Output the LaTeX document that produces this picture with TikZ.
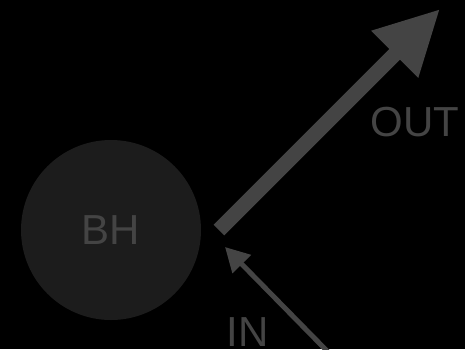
\documentclass[tikz,border=0pt]{standalone}
\usepackage{fontspec}
\setmainfont{Liberation Sans}
\usetikzlibrary{arrows.meta}
\definecolor{bgcol}{HTML}{000000}
\definecolor{holecol}{HTML}{1C1C1C}
\definecolor{inkcol}{HTML}{444444}
\tikzset{
  hole/.style={circle, fill=holecol, minimum size=180pt, inner sep=0pt, text=inkcol},
  lbl/.style={inner sep=0pt, text=inkcol, font=\fontsize{42}{42}\selectfont},
  outflow/.style={draw=inkcol, line width=15pt, -{Triangle[length=64pt,width=62pt,fill=inkcol]}},
  inflow/.style={draw=inkcol, line width=5pt, -{Triangle[length=24pt,width=25pt,fill=inkcol]}}
}
\begin{document}
\begin{tikzpicture}[x=1pt,y=-1pt]
  % canvas
  \fill[bgcol] (0,0) rectangle (465,349);
  \useasboundingbox (0,0) rectangle (465,349);
  % black hole
  \node[hole, font=\fontsize{42}{42}\selectfont] (bh) at (111,230) {BH};
  % outgoing jet
  \coordinate (outtail) at (219,230);
  \coordinate (outtip) at (440,9);
  \draw[outflow] (outtail) -- (outtip);
  \node[lbl] (outlbl) at (415,122) {OUT};
  % infalling stream
  \coordinate (intail) at (330,354);
  \coordinate (intip) at (225,247);
  \draw[inflow] (intail) -- (intip);
  \node[lbl] (inlbl) at (247.5,332) {IN};
\end{tikzpicture}
\end{document}
